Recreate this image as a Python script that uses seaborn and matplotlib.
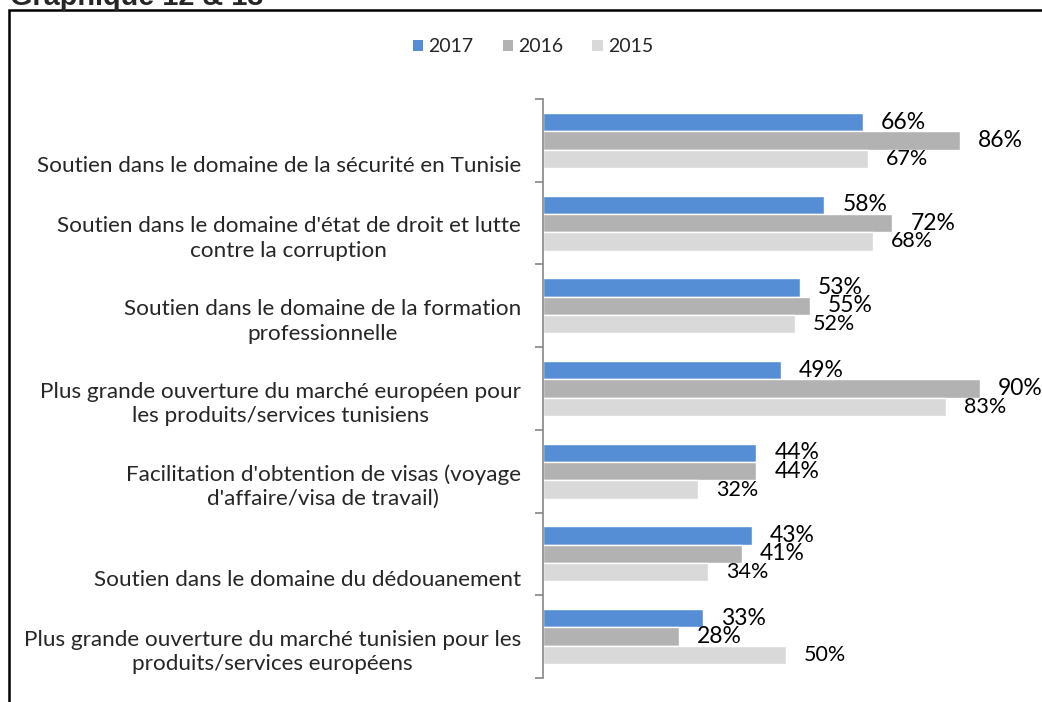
import pandas as pd
import matplotlib
matplotlib.use("Agg")
import matplotlib.pyplot as plt
import matplotlib.transforms as mtransforms
from matplotlib.patches import Rectangle, Patch
import seaborn as sns

# données
categories = [
    "Soutien dans le domaine de la sécurité en Tunisie",
    "Soutien dans le domaine d'état de droit et lutte\ncontre la corruption",
    "Soutien dans le domaine de la formation\nprofessionnelle",
    "Plus grande ouverture du marché européen pour\nles produits/services tunisiens",
    "Facilitation d'obtention de visas (voyage\nd'affaire/visa de travail)",
    "Soutien dans le domaine du dédouanement",
    "Plus grande ouverture du marché tunisien pour les\nproduits/services européens",
]
years = ["2017", "2016", "2015"]
v2017 = [66, 58, 53, 49, 44, 43, 33]
v2016 = [86, 72, 55, 90, 44, 41, 28]
v2015 = [67, 68, 52, 83, 32, 34, 50]
colors = ["#558ED5", "#B2B2B2", "#D9D9D9"]

rows = []
for year, vals in zip(years, [v2017, v2016, v2015]):
    for cat, v in zip(categories, vals):
        rows.append({"categorie": cat, "annee": year, "valeur": v})
df = pd.DataFrame(rows)

sns.set_theme(style="white")
plt.rcParams["font.family"] = ["Lato", "DejaVu Sans"]

fig = plt.figure(figsize=(10.42, 7.02), dpi=100)
ax = fig.add_axes([543 / 1042, 1 - 678 / 702, (1028 - 543) / 1042, (678 - 99) / 702])

sns.barplot(data=df, y="categorie", x="valeur", hue="annee", hue_order=years,
            order=categories, palette=colors, orient="h", width=0.665,
            saturation=1, ax=ax, legend=False)

ax.set_xlim(0, 100)
ax.set_ylim(len(categories) - 0.5, -0.5)
ax.set_xlabel("")
ax.set_ylabel("")
ax.set_xticks([])

# étiquettes de données
for cont, year in zip(ax.containers, years):
    size = 15.5 if year == "2015" else 16.5
    ax.bar_label(cont, labels=[f"{int(v)}%" for v in cont.datavalues],
                 padding=13, fontsize=size, color="black")

# axe vertical avec graduations entre les groupes
for s in ["top", "right", "bottom"]:
    ax.spines[s].set_visible(False)
ax.spines["left"].set_color("#868686")
ax.spines["left"].set_linewidth(1.2)
ax.set_yticks([i - 0.5 for i in range(len(categories) + 1)], minor=True)
ax.tick_params(axis="y", which="minor", left=True, length=6, width=1.2,
               color="#868686", direction="out")
ax.tick_params(axis="y", which="major", left=False, length=0, pad=16)
ax.set_yticks(range(len(categories)))
ax.set_yticklabels(categories, fontsize=16.2, ha="right", multialignment="center",
                   linespacing=1.3)
for lab in ax.get_yticklabels():
    dy = -11 if "\n" in lab.get_text() else -24
    lab.set_transform(lab.get_transform() + mtransforms.ScaledTranslation(0, dy / 100, fig.dpi_scale_trans))

# légende
handles = [Patch(facecolor=c, edgecolor="none") for c in colors]
fig.legend(handles, years, loc="center", bbox_to_anchor=(533 / 1042, 1 - 47 / 702),
           ncol=3, frameon=False, fontsize=14, handlelength=0.55, handleheight=0.55,
           handletextpad=0.25, columnspacing=1.5)

# cadre et titre (coupé en haut)
fig.add_artist(Rectangle((9 / 1042, -0.1), 1.2, 1 - 10 / 702 + 0.1, transform=fig.transFigure,
                         fill=False, edgecolor="black", linewidth=1.8))
fig.text(10 / 1042, 1 - 5 / 702, "Graphique 12 & 13", fontsize=20.8, fontweight="bold",
         family=["Liberation Sans", "DejaVu Sans"], ha="left", va="baseline")

fig.savefig("out.png", dpi=100)
